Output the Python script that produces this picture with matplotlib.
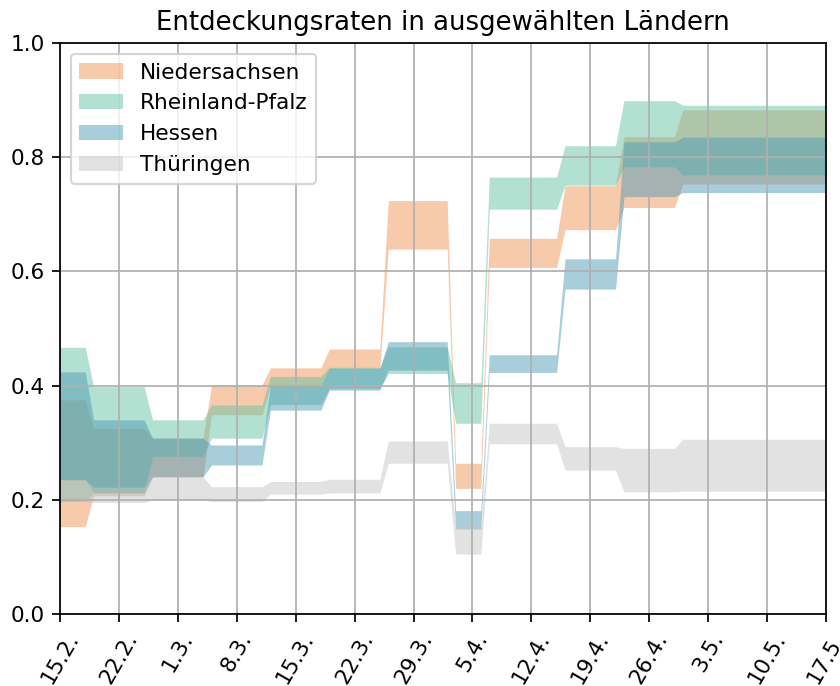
import pandas as pd
import numpy as np
import matplotlib
matplotlib.use('Agg')
import matplotlib.pyplot as plt

# Segment start dates (values hold until the next start), last entry = end of range
seg_starts = ['2021-02-15', '2021-02-19', '2021-02-26', '2021-03-05', '2021-03-12',
              '2021-03-19', '2021-03-26', '2021-04-03', '2021-04-07', '2021-04-16',
              '2021-04-23', '2021-04-30']
end_date = '2021-05-17'

states = ['Niedersachsen', 'Rheinland-Pfalz', 'Hessen', 'Thüringen']
colors = ['#f0975a', '#66c2a5', '#529db8', '#c4c7c5']

ni_lo = [0.153, 0.207, 0.240, 0.349, 0.398, 0.430, 0.639, 0.220, 0.607, 0.673, 0.712, 0.753]
ni_hi = [0.375, 0.325, 0.308, 0.401, 0.431, 0.464, 0.724, 0.264, 0.658, 0.750, 0.836, 0.883]
rp_lo = [0.197, 0.212, 0.276, 0.308, 0.367, 0.395, 0.421, 0.334, 0.709, 0.751, 0.783, 0.769]
rp_hi = [0.467, 0.398, 0.340, 0.366, 0.416, 0.432, 0.468, 0.405, 0.765, 0.820, 0.899, 0.891]
he_lo = [0.235, 0.212, 0.240, 0.261, 0.357, 0.392, 0.427, 0.149, 0.423, 0.569, 0.731, 0.738]
he_hi = [0.424, 0.340, 0.308, 0.296, 0.400, 0.430, 0.477, 0.181, 0.454, 0.622, 0.827, 0.835]
th_lo = [0.197, 0.195, 0.200, 0.197, 0.210, 0.212, 0.264, 0.105, 0.298, 0.252, 0.214, 0.215]
th_hi = [0.235, 0.222, 0.240, 0.223, 0.232, 0.236, 0.303, 0.155, 0.334, 0.293, 0.290, 0.306]

bands = [(ni_lo, ni_hi), (rp_lo, rp_hi), (he_lo, he_hi), (th_lo, th_hi)]

days = pd.date_range(seg_starts[0], end_date, freq='D')


def daily(vals):
    s = pd.Series(vals, index=pd.to_datetime(seg_starts))
    return s.reindex(days).ffill().values


fig, ax = plt.subplots(figsize=(840 / 156, 686 / 156), dpi=156)
for name, col, (lo, hi) in zip(states, colors, bands):
    ax.fill_between(days, daily(lo), daily(hi), color=col, alpha=0.5, lw=0, label=name)

ticks = pd.date_range(seg_starts[0], end_date, freq='7D')
ax.set_xticks(ticks)
ax.set_xticklabels([f'{d.day}.{d.month}.' for d in ticks], rotation=60)
ax.set_xlim(days[0], days[-1])
ax.set_ylim(0, 1)
ax.set_title('Entdeckungsraten in ausgewählten Ländern')
ax.grid()
ax.legend(loc='upper left')
fig.subplots_adjust(left=0.0714, right=0.9833, top=0.9373, bottom=0.105)
fig.savefig('out.png')
